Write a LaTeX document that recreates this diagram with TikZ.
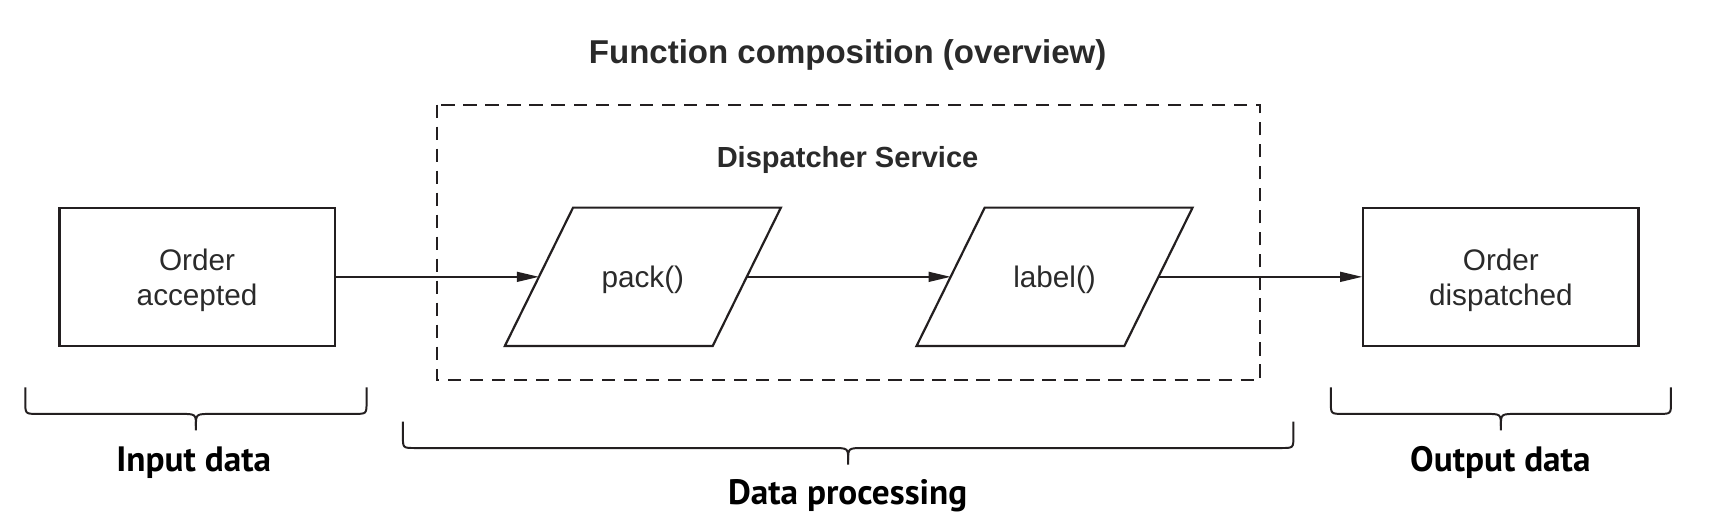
\documentclass[tikz,border=0pt]{standalone}
\usepackage{fontspec}
\setmainfont{Liberation Sans}
\newfontfamily\bracefont{PT Sans}
\usetikzlibrary{calc,arrows.meta}
\definecolor{ink}{HTML}{231F20}
\definecolor{txt}{HTML}{2A2A2A}
\tikzset{
	box/.style={draw=ink,line width=1pt,minimum width=125pt,minimum height=62.5pt,align=center,text=txt,text depth=0pt,font=\fontsize{13.5}{16}\selectfont},
	func/.style={minimum width=94pt,minimum height=62.5pt,text=txt,text depth=0pt,font=\fontsize{13.5}{16}\selectfont},
	flow/.style={draw=ink,line width=0.75pt,-{Triangle[length=10pt,width=4.5pt]}},
	bracelbl/.style={text=black,font=\bracefont\bfseries\fontsize{16}{18}\selectfont,anchor=base},
	heading/.style={text=txt,font=\bfseries\fontsize{15}{17}\selectfont}
}
% brace: left x, right x, top y, line y, tip y
\newcommand{\undbrace}[5]{%
	\draw[ink,line width=0.9pt] (#1,#3) -- (#1,#4-11) .. controls (#1,#4) .. (#1+11,#4)
		-- ({(#1+#2)/2-15},#4) .. controls ({(#1+#2)/2},#4) .. ({(#1+#2)/2},#4+11) -- ({(#1+#2)/2},#5);
	\draw[ink,line width=0.9pt] ({(#1+#2)/2},#4+11) .. controls ({(#1+#2)/2},#4) .. ({(#1+#2)/2+15},#4)
		-- (#2-11,#4) .. controls (#2,#4) .. (#2,#4-11) -- (#2,#3);}

\begin{document}
\begin{tikzpicture}[x=0.5pt,y=-0.5pt]
	\useasboundingbox (0,0) rectangle (1568,481);
	%\draw[help lines] (0,0) grid[step=100] (1568,481);
	
	%TITLES
	\node[heading] (title) at (770,50) {Function composition (overview)};
	\node[heading,font=\bfseries\fontsize{13.2}{15}\selectfont] (svc) at (770,145) {Dispatcher Service};
	%DASHED FRAME
	\draw[ink,line width=0.9pt,dash pattern=on 6pt off 4pt] (397,95) rectangle (1145,345);
	%BOXES
	\node[box] (accepted) at (179,251.5) {Order\\accepted};
	\node[box] (dispatched) at (1363.5,251.5) {Order\\dispatched};
	\node[func] (pack) at (584,251.5) {pack()};
	\node[func] (lbl) at (958,251.5) {label()};
	\foreach \n in {pack,lbl}
		\draw[ink,line width=1pt] ($(\n.south west)+(-31,0)$) -- ($(\n.north west)+(31,0)$)
			-- ($(\n.north east)+(31,0)$) -- ($(\n.south east)+(-31,0)$) -- cycle;
	%ARROWS
	\draw[flow] (accepted) -- (pack);
	\draw[flow] (pack) -- (lbl);
	\draw[flow] (lbl) -- (dispatched);
	%BRACES
	\undbrace{23}{333}{352}{376}{391}
	\undbrace{366}{1175}{383}{407}{422}
	\undbrace{1209}{1518}{352}{376}{391}
	\node[bracelbl] (inlbl) at (176,428) {Input data};
	\node[bracelbl] (proclbl) at (770,458) {Data processing};
	\node[bracelbl] (outlbl) at (1363,428) {Output data};
	
\end{tikzpicture}
\end{document}
